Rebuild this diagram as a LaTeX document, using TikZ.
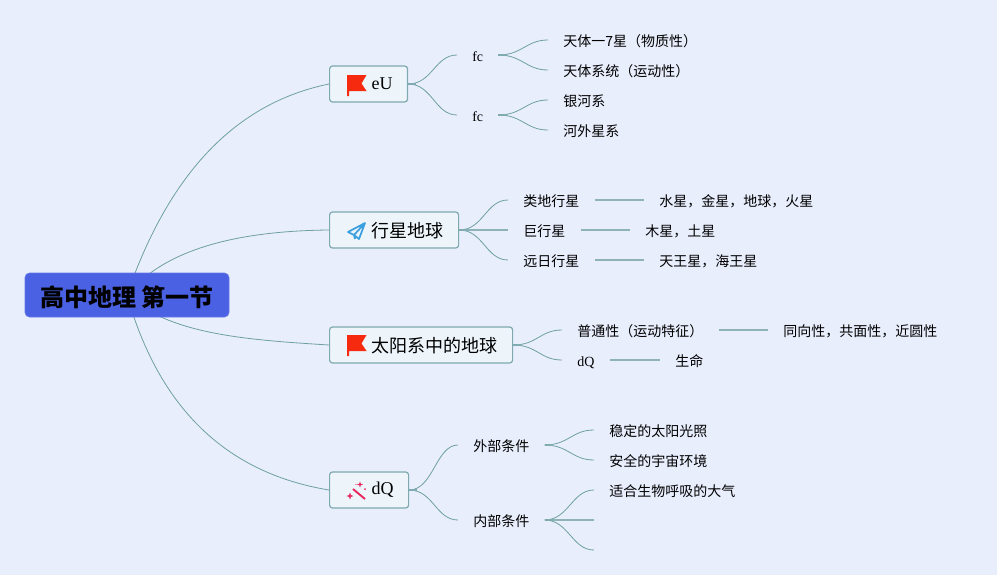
\documentclass[tikz,border=0pt]{standalone}
\usepackage{fontspec}
\setmainfont{Liberation Serif}
\newfontfamily\cjk{Noto Sans CJK SC}
\usetikzlibrary{arrows.meta,positioning,calc,backgrounds}
\definecolor{pagebg}{HTML}{E9EEFD}
\definecolor{rootfill}{HTML}{4A61E3}
\definecolor{topicfill}{HTML}{EDF5FB}
\definecolor{topicline}{HTML}{7EA9AF}
\definecolor{wirecol}{HTML}{6E9FA3}
\definecolor{flagred}{HTML}{F52A0E}
\definecolor{planeblue}{HTML}{3C9FDF}
\definecolor{wandpink}{HTML}{E8275F}
\tikzset{
  vroot/.style={draw=rootfill!85!white,fill=rootfill,rounded corners=3.5pt,line width=0.6pt,minimum width=153pt,minimum height=33pt,inner sep=0pt,text height=19pt,text depth=2.3pt,font=\cjk\bfseries\fontsize{18}{20}\selectfont},
  vtopic/.style={draw=topicline,fill=topicfill,rounded corners=2.2pt,line width=0.9pt,anchor=west,minimum height=27pt,inner xsep=0pt,inner ysep=0pt,font=\fontsize{13.5}{16}\selectfont,execute at begin node=\hspace*{31.5pt},execute at end node=\hspace*{11.25pt}},
  vtopiccn/.style={vtopic,text height=13.2pt,text depth=1.5pt,font=\cjk\fontsize{13.5}{16}\selectfont},
  vsub/.style={anchor=west,inner xsep=11.25pt,inner ysep=1pt,text height=10.5pt,text depth=1pt,font=\fontsize{10.5}{13}\selectfont},
  vleaf/.style={vsub,font=\cjk\fontsize{10.5}{13}\selectfont},
  vwire/.style={line width=0.6pt,draw=wirecol},
  vbar/.style={line width=1.1pt,draw=wirecol!75!pagebg},
  vstub/.style={line width=1.2pt,draw=wirecol!85!pagebg},
  flagicon/.pic={
    \fill[flagred] (0,1) -- (19.5,1) -- (14.5,9.5) -- (19.5,17) -- (2,17) -- (2,22) -- (0,22) -- cycle;
  },
  planeicon/.pic={
    \draw[planeblue,line width=1.3pt,line join=round] (17,1) -- (0,10) -- (6,13) -- (17,1) -- (11,17) -- (6,13) -- (7,17);
  },
  wandicon/.pic={
    \draw[wandpink,line width=1.4pt] (5,7) -- (17,17);
    \fill[wandpink] (2,10.5) -- (2.9,13.1) -- (5.5,14) -- (2.9,14.9) -- (2,17.5) -- (1.1,14.9) -- (-1.5,14) -- (1.1,13.1) -- cycle;
    \fill[wandpink] (12,-0.5) -- (12.8,1.7) -- (15,2.5) -- (12.8,3.3) -- (12,5.5) -- (11.2,3.3) -- (9,2.5) -- (11.2,1.7) -- cycle;
    \fill[wandpink] (17,7) circle (1);
    \fill[wandpink] (8,2.5) circle (0.6);
  }
}
\begin{document}
\begin{tikzpicture}[x=0.75pt,y=-0.75pt]
  \useasboundingbox (0,0) rectangle (997,575);
  \node[vroot] (root) at (127,295) {高中地理 第一节};
  \node[vtopic] (eu) at (329,84) {eU};
  \node[vtopiccn] (planet) at (329,230) {行星地球};
  \node[vtopiccn] (earth) at (329,345) {太阳系中的地球};
  \node[vtopic] (dq) at (329,490) {dQ};
  \pic at (347,74) {flagicon};
  \pic at (348,222) {planeicon};
  \pic at (347,334) {flagicon};
  \pic at (348,482) {wandicon};
  \node[vsub] (fca) at (457,55) {fc};
  \node[vsub] (fcb) at (457,115) {fc};
  \node[vleaf] (star) at (548,40) {天体一7星（物质性）};
  \node[vleaf] (sys) at (548,70) {天体系统（运动性）};
  \node[vleaf] (galaxy) at (548,100) {银河系};
  \node[vleaf] (extra) at (548,130) {河外星系};
  \node[vleaf] (rocky) at (508,200) {类地行星};
  \node[vleaf] (giant) at (508,230) {巨行星};
  \node[vleaf] (far) at (508,260) {远日行星};
  \node[vleaf] (rockyv) at (644,200) {水星，金星，地球，火星};
  \node[vleaf] (giantv) at (630,230) {木星，土星};
  \node[vleaf] (farv) at (644,260) {天王星，海王星};
  \node[vleaf] (common) at (562,330) {普通性（运动特征）};
  \node[vsub] (dqb) at (562,360) {dQ};
  \node[vleaf] (commonv) at (768,330) {同向性，共面性，近圆性};
  \node[vleaf] (life) at (660,360) {生命};
  \node[vleaf] (outer) at (458,445) {外部条件};
  \node[vleaf] (inner) at (458,520) {内部条件};
  \node[vleaf] (sun) at (594,430) {稳定的太阳光照};
  \node[vleaf] (space) at (594,460) {安全的宇宙环境};
  \node[vleaf] (air) at (594,490) {适合生物呼吸的大气};
  \coordinate (blanka) at (594,520);
  \coordinate (blankb) at (594,550);
  \begin{scope}[on background layer]
    \fill[pagebg] (0,0) rectangle (997,575);
    \draw[vwire] (root.center) .. controls (169,173) and (236,103) .. (eu.west);
    \draw[vwire] (root.center) .. controls (162,252) and (230,231) .. (planet.west);
    \draw[vwire] (root.center) .. controls (170,335) and (250,340) .. (earth.west);
    \draw[vwire] (root.center) .. controls (159,408) and (226,473) .. (dq.west);
    \foreach \from/\to in {eu/fca,eu/fcb,fca/star,fca/sys,fcb/galaxy,fcb/extra,planet/rocky,planet/far,earth/common,earth/dqb,dq/outer,dq/inner,outer/sun,outer/space,inner/air}
      \draw[vwire] (\from.east) .. controls +(24,0) and +(-22,0) .. (\to.west);
    \draw[vwire] (inner.east) .. controls +(24,0) and +(-22,0) .. (blankb);
    \foreach \from/\to in {planet/giant,rocky/rockyv,giant/giantv,far/farv,common/commonv,dqb/life}
      \draw[vbar] (\from.east) -- (\to.west);
    \draw[vbar] (inner.east) -- (blanka);
    \foreach \from in {eu,fca,fcb,planet,earth,dq,outer,inner}
      \draw[vstub] (\from.east) -- ++(8,0);
  \end{scope}
\end{tikzpicture}
\end{document}
